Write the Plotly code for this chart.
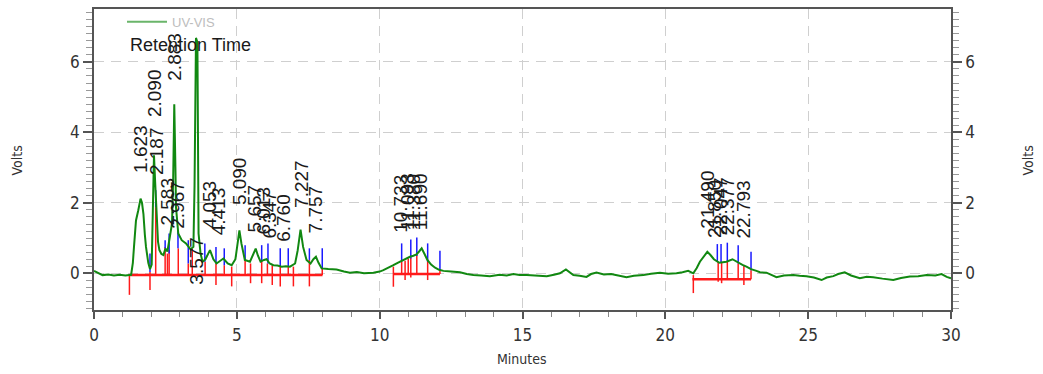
import plotly.graph_objects as go

# ---- chromatogram signal (minutes, volts) ----
sig_t = [0.00, 0.15, 0.30, 0.50, 0.70, 0.90, 1.10, 1.30, 1.36, 1.40, 1.47, 1.55, 1.63, 1.68, 1.73, 1.78,
         1.82, 1.90, 1.96, 2.02, 2.06, 2.10, 2.14, 2.19, 2.24, 2.29, 2.36, 2.43, 2.50, 2.57, 2.64, 2.73,
         2.77, 2.81, 2.85, 2.87, 2.95, 3.07, 3.22, 3.38, 3.48, 3.52, 3.57, 3.62, 3.66, 3.73, 3.80, 3.90,
         4.06, 4.18, 4.29, 4.40, 4.53, 4.68, 4.82, 4.95, 5.03, 5.09, 5.16, 5.28, 5.46, 5.58, 5.66, 5.74,
         5.83, 5.95, 6.04, 6.15, 6.28, 6.42, 6.57, 6.72, 6.86, 7.04, 7.13, 7.23, 7.32, 7.44, 7.58, 7.68,
         7.77, 7.86, 7.97, 8.20, 8.49, 8.75, 8.96, 9.20, 9.45, 9.78, 10.00, 10.13, 10.30, 10.48, 10.63,
         10.77, 10.92, 11.06, 11.18, 11.29, 11.38, 11.47, 11.57, 11.67, 11.80, 11.94, 12.08, 12.23, 12.50,
         12.81, 13.05, 13.28, 13.55, 13.86, 14.20, 14.45, 14.68, 14.90, 15.15, 15.50, 15.85, 16.10, 16.31,
         16.52, 16.65, 16.78, 17.00, 17.24, 17.40, 17.59, 17.85, 18.10, 18.35, 18.64, 18.90, 19.23, 19.50,
         19.81, 20.10, 20.39, 20.60, 20.80, 20.98, 21.10, 21.21, 21.35, 21.47, 21.58, 21.70, 21.89, 22.00,
         22.14, 22.35, 22.55, 22.70, 22.84, 23.00, 23.19, 23.31, 23.54, 23.70, 23.89, 24.15, 24.48, 24.70,
         24.94, 25.20, 25.47, 25.65, 25.88, 26.05, 26.28, 26.50, 26.81, 27.05, 27.28, 27.60, 27.98, 28.25,
         28.56, 28.85, 29.15, 29.45, 29.67, 29.85, 30.00]
sig_v = [0.07, 0.00, -0.05, -0.03, -0.06, -0.04, -0.06, -0.04, 0.30, 0.75, 1.50, 1.79, 2.12, 2.00, 1.69, 1.10,
         0.75, 0.30, 0.12, 0.25, 1.50, 3.35, 2.60, 1.50, 0.90, 0.66, 0.55, 0.52, 0.70, 0.62, 1.03, 1.41,
         2.60, 4.80, 3.00, 1.88, 1.13, 0.94, 0.85, 0.68, 0.75, 2.50, 6.68, 6.55, 1.13, 0.56, 0.33, 0.40,
         0.66, 0.40, 0.28, 0.35, 0.42, 0.28, 0.23, 0.40, 0.95, 1.22, 0.85, 0.38, 0.33, 0.55, 0.70, 0.50,
         0.33, 0.38, 0.40, 0.28, 0.23, 0.22, 0.19, 0.20, 0.19, 0.28, 0.65, 1.24, 0.75, 0.38, 0.28, 0.40,
         0.47, 0.30, 0.14, 0.12, 0.11, 0.05, 0.02, 0.04, 0.00, 0.02, 0.05, 0.09, 0.15, 0.23, 0.30,
         0.36, 0.42, 0.47, 0.50, 0.54, 0.62, 0.71, 0.55, 0.38, 0.25, 0.16, 0.10, 0.07, 0.05,
         0.03, -0.02, -0.05, -0.06, -0.08, -0.04, -0.06, -0.02, -0.05, -0.05, -0.06, -0.08, -0.04, 0.00,
         0.11, 0.02, -0.05, -0.07, -0.10, -0.02, 0.02, -0.03, -0.02, -0.06, -0.11, -0.07, -0.05, -0.01,
         0.02, -0.01, 0.00, 0.03, 0.07, 0.00, 0.15, 0.33, 0.50, 0.61, 0.52, 0.40, 0.30, 0.32,
         0.33, 0.40, 0.30, 0.24, 0.19, 0.12, 0.07, 0.03, 0.02, -0.05, -0.11, -0.06, -0.05, -0.07,
         -0.08, -0.12, -0.19, -0.12, -0.08, -0.02, 0.03, -0.06, -0.14, -0.10, -0.11, -0.15, -0.19, -0.13,
         -0.09, -0.08, -0.05, -0.06, -0.02, -0.10, -0.14]

# ---- peak labels: text, position (minutes), label foot (volts) ----
peak_labels = ["1.623", "2.090", "2.187", "2.583", "2.883", "2.967", "3.577", "4.053", "4.413",
               "5.090", "5.657", "6.013", "6.347", "6.760", "7.227", "7.757",
               "10.733", "11.093", "11.380", "11.690",
               "21.490", "21.850", "22.047", "22.377", "22.793"]
label_t = [1.63, 2.14, 2.19, 2.57, 2.79, 2.92, 3.59, 4.03, 4.35,
           5.10, 5.63, 5.90, 6.14, 6.63, 7.27, 7.74,
           10.73, 10.97, 11.20, 11.43,
           21.47, 21.70, 21.93, 22.17, 22.73]
label_v = [2.78, 4.38, 2.72, 1.31, 5.40, 1.22, -0.39, 1.22, 1.03,
           1.87, 1.10, 1.03, 0.94, 0.85, 1.79, 1.08,
           1.08, 1.17, 1.17, 1.17,
           1.22, 0.94, 1.03, 1.03, 0.94]

# ---- integration marks ----
# blue peak marks: time, low, high (volts)
blue_t = [1.96, 2.16, 2.49, 2.63, 2.94, 3.30, 3.88, 4.27, 4.56, 5.29, 5.87, 6.09, 6.52, 6.80, 7.54, 7.99,
          10.77, 11.09, 11.30, 11.68, 12.11,
          21.82, 21.95, 22.17, 22.55, 23.00]
blue_lo = [0.04, 1.88, 0.71, 0.56, 0.71, 0.28, 0.33, 0.28, 0.23, 0.38, 0.33, 0.28, 0.19, 0.19, 0.38, 0.14,
           0.33, 0.42, 0.49, 0.33, 0.09,
           0.33, 0.30, 0.33, 0.28, 0.09]
blue_hi = [0.56, 2.36, 0.94, 1.13, 1.22, 0.94, 0.85, 0.75, 0.71, 0.80, 0.80, 0.85, 0.71, 0.71, 0.71, 0.71,
           0.85, 0.96, 1.02, 0.85, 0.64,
           0.83, 0.83, 0.87, 0.80, 0.61]
# red drop lines: time, top, bottom (volts)
red_t = [1.24, 1.96, 2.16, 2.49, 2.57, 2.63, 2.95, 3.30, 3.44, 3.89, 4.27, 4.56, 4.82, 5.29, 5.48, 5.87,
         6.07, 6.24, 6.52, 6.80, 6.98, 7.54, 7.99,
         10.48, 10.77, 10.89, 11.00, 11.09, 11.30, 11.68, 12.11,
         20.98, 21.85, 21.97, 22.17, 22.55, 22.75, 23.00]
red_top = [-0.05, 0.04, 1.88, 0.75, 0.56, 0.66, 0.71, 0.28, 0.70, 0.33, 0.28, 0.23, 0.19, 0.38, 0.28, 0.33,
           0.28, 0.23, 0.19, 0.19, 0.19, 0.38, 0.14,
           0.19, 0.33, 0.36, 0.42, 0.45, 0.52, 0.38, 0.09,
           -0.05, 0.33, 0.30, 0.33, 0.28, 0.24, 0.09]
red_bot = [-0.61, -0.47, -0.05, -0.05, -0.05, -0.05, -0.05, -0.05, -0.05, -0.05, -0.33, -0.05, -0.37, -0.05,
           -0.28, -0.28, -0.05, -0.33, -0.37, -0.05, -0.37, -0.37, -0.05,
           -0.38, -0.02, -0.19, -0.02, -0.12, -0.02, -0.19, -0.02,
           -0.56, -0.24, -0.28, -0.17, -0.17, -0.33, -0.17]
# red baselines: start, end, level
base_t0 = [1.24, 10.48, 20.95]
base_t1 = [8.00, 12.11, 23.00]
base_v = [-0.05, -0.02, -0.17]

GREEN = "#118811"
fig = go.Figure()

# baselines
bx, by = [], []
for a, b, v in zip(base_t0, base_t1, base_v):
    bx += [a, b, None]
    by += [v, v, None]
fig.add_trace(go.Scatter(x=bx, y=by, mode="lines", line=dict(color="#ff1a1a", width=2.5),
                         showlegend=False, hoverinfo="skip"))
# red drop lines
rx, ry = [], []
for t, a, b in zip(red_t, red_top, red_bot):
    rx += [t, t, None]
    ry += [a, b, None]
fig.add_trace(go.Scatter(x=rx, y=ry, mode="lines", line=dict(color="#ff1a1a", width=1.5),
                         showlegend=False, hoverinfo="skip"))
# blue marks
ux, uy = [], []
for t, a, b in zip(blue_t, blue_lo, blue_hi):
    ux += [t, t, None]
    uy += [a, b, None]
fig.add_trace(go.Scatter(x=ux, y=uy, mode="lines", line=dict(color="#1a1aff", width=1.5),
                         showlegend=False, hoverinfo="skip"))

# signal
fig.add_trace(go.Scatter(x=sig_t, y=sig_v, mode="lines", line=dict(color=GREEN, width=2),
                         showlegend=False, name="UV-VIS"))
# legend entry
fig.add_trace(go.Scatter(x=[None], y=[None], mode="lines", line=dict(color="#6ab56a", width=2),
                         name="UV-VIS", showlegend=True))
# dummy trace for right axis
fig.add_trace(go.Scatter(x=[None], y=[None], yaxis="y2", showlegend=False, hoverinfo="skip"))

# peak labels
for txt, t, v in zip(peak_labels, label_t, label_v):
    fig.add_annotation(x=t, y=v, text=txt, textangle=-90, showarrow=False,
                       xanchor="center", yanchor="bottom",
                       font=dict(family="Liberation Sans, Arial, sans-serif", size=19, color="#1a1a1a"))

fig.add_annotation(xref="paper", yref="paper", x=(128 - 94) / 857, y=1 - (44 - 8) / 302,
                   text="Retention Time", showarrow=False, xanchor="left", yanchor="middle",
                   font=dict(family="Liberation Sans, Arial, sans-serif", size=18, color="#1a1a1a"))

NARROW = "Liberation Sans Narrow, Arial Narrow, DejaVu Sans Condensed, Liberation Sans, sans-serif"
for xp in [17, 1028]:
    fig.add_annotation(xref="paper", yref="paper", x=(xp - 94) / 857, y=1 - (160 - 8) / 302,
                       text="Volts", textangle=-90, showarrow=False, xanchor="center", yanchor="middle",
                       font=dict(family=NARROW, size=14, color="#333"))
fig.add_annotation(xref="paper", yref="paper", x=(522 - 94) / 857, y=1 - (359 - 8) / 302,
                   text="Minutes", showarrow=False, xanchor="center", yanchor="middle",
                   font=dict(family=NARROW, size=14, color="#333"))

grid = dict(showgrid=True, gridcolor="#cfcfcf", gridwidth=1.3, griddash="10px,7px")
yax = dict(range=[-1.04, 7.5], tickvals=[0, 2, 4, 6], ticks="outside", ticklen=9, tickwidth=1.5,
           tickcolor="#555", showline=True, linecolor="#555", linewidth=1.8, zeroline=False,
           tickfont=dict(family=NARROW, size=17, color="#333"),
           minor=dict(dtick=0.2, tick0=0, ticks="outside", ticklen=6, tickcolor="#999", tickwidth=1,
                      showgrid=False))
fig.update_layout(
    width=1043, height=374,
    margin=dict(l=94, r=92, t=8, b=64),
    plot_bgcolor="white", paper_bgcolor="white",
    xaxis=dict(range=[0, 30], tickvals=[0, 5, 10, 15, 20, 25, 30], ticks="outside", ticklen=7,
               tickwidth=1.5, tickcolor="#555", showline=True, linecolor="#555", linewidth=1.8,
               mirror=True, zeroline=False, ticklabelstandoff=2,
               tickfont=dict(family=NARROW, size=17, color="#333"),
               minor=dict(dtick=1, ticks="outside", ticklen=5, tickcolor="#888", tickwidth=1,
                          showgrid=False),
               **grid),
    yaxis=dict(**yax, **grid),
    yaxis2=dict(**yax, overlaying="y", side="right", showgrid=False),
    showlegend=True,
    legend=dict(x=(122 - 94) / 857, y=1 - (21.7 - 8) / 302, xanchor="left", yanchor="middle",
                bgcolor="rgba(0,0,0,0)", itemwidth=40,
                font=dict(family="Liberation Sans, Arial, sans-serif", size=13, color="#bdbdbd")),
)

fig.write_html("out.html", config={"displayModeBar": False},
               post_script="document.body.style.margin='0';")
